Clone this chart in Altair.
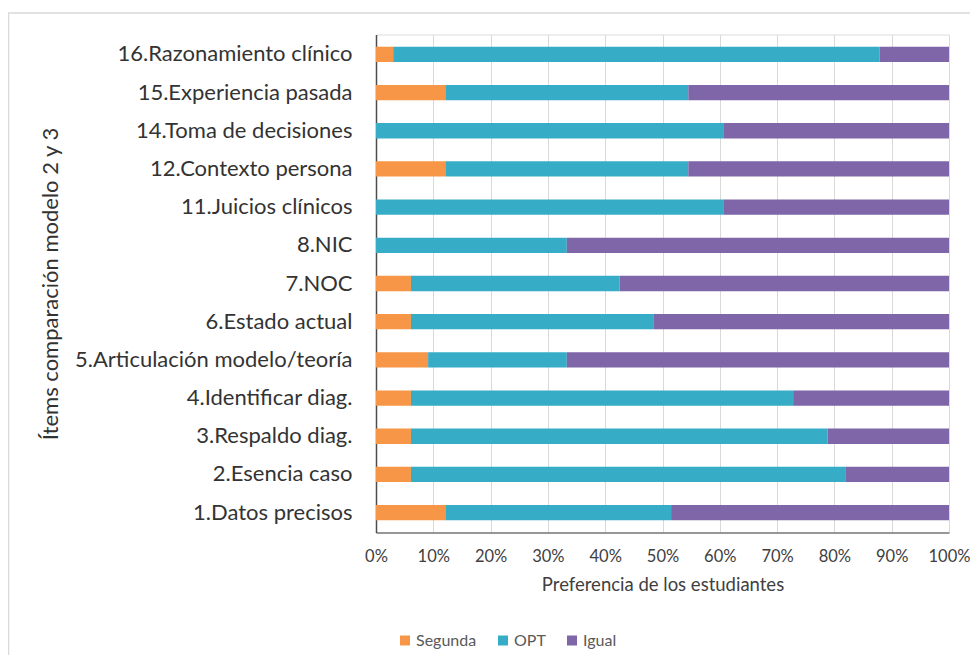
import altair as alt
import pandas as pd

items = ["16.Razonamiento clínico", "15.Experiencia pasada", "14.Toma de decisiones",
         "12.Contexto persona", "11.Juicios clínicos", "8.NIC", "7.NOC", "6.Estado actual",
         "5.Articulación modelo/teoría", "4.Identificar diag.", "3.Respaldo diag.",
         "2.Esencia caso", "1.Datos precisos"]
segunda = [3.0, 12.1, 0.0, 12.1, 0.0, 0.0, 6.1, 6.1, 9.1, 6.1, 6.1, 6.1, 12.1]
opt = [84.9, 42.4, 60.6, 42.4, 60.6, 33.3, 36.4, 42.4, 24.2, 66.7, 72.7, 75.8, 39.4]
igual = [12.1, 45.5, 39.4, 45.5, 39.4, 66.7, 57.5, 51.5, 66.7, 27.2, 21.2, 18.1, 48.5]
series = ["Segunda", "OPT", "Igual"]
colors = ["#F79646", "#36ACC7", "#7E66A8"]
x_ticks = [0, 0.1, 0.2, 0.3, 0.4, 0.5, 0.6, 0.7, 0.8, 0.9, 1.0]

rows = []
for i, it in enumerate(items):
    for k, (name, vals) in enumerate(zip(series, [segunda, opt, igual])):
        rows.append({"item": it, "serie": name, "valor": vals[i], "orden": k})
df = pd.DataFrame(rows)

FONT = "Lato"

bars = alt.Chart(df).mark_bar().encode(
    y=alt.Y("item:N", sort=items,
            scale=alt.Scale(paddingInner=0.6, paddingOuter=0.32),
            axis=alt.Axis(title="Ítems comparación modelo 2 y 3", ticks=False,
                          labelPadding=24, labelFontSize=22, labelColor="#333333",
                          labelFont=FONT, labelLimit=0, labelOverlap=False,
                          titleFont=FONT, titleFontSize=22,
                          titleFontWeight="normal", titleColor="#333333",
                          titleX=-326, titleY=249, titleAngle=270,
                          titleAlign="center", titleBaseline="middle",
                          domainColor="#4d4d4d", domainWidth=1.5, grid=False)),
    x=alt.X("valor:Q", stack="normalize",
            scale=alt.Scale(domain=[0, 1], nice=False),
            axis=alt.Axis(title="Preferencia de los estudiantes", format=".0%",
                          values=x_ticks, ticks=False, labelPadding=16,
                          labelOverlap=False, labelFlush=False,
                          labelFontSize=16.5, labelColor="#404040", labelFont=FONT,
                          titleFont=FONT, titleFontSize=18.5, titleFontWeight="normal",
                          titleColor="#404040", titlePadding=10,
                          domainColor="#404040", domainWidth=1,
                          grid=True, gridColor="#D9D9D9", gridWidth=1)),
    color=alt.Color("serie:N", scale=alt.Scale(domain=series, range=colors),
                    legend=alt.Legend(title=None, orient="none", direction="horizontal",
                                      legendX=21, legendY=598, symbolType="square",
                                      symbolSize=100, symbolStrokeWidth=0,
                                      labelFont=FONT, labelFontSize=16,
                                      labelColor="#595959", labelOffset=3,
                                      columnPadding=18, padding=0)),
    order=alt.Order("orden:Q"),
)

border = alt.Chart(pd.DataFrame({"a": [0]})).mark_rect(
    filled=False, stroke="#D9D9D9", strokeWidth=1.5, clip=False
).encode(
    x=alt.value(-367.5), x2=alt.value(800), y=alt.value(-21.5), y2=alt.value(800)
)

chart = alt.layer(border, bars).properties(
    width=573, height=498,
    autosize=alt.AutoSizeParams(type="none"),
    padding={"left": 368, "top": 26.5, "right": 21, "bottom": 122.5},
).configure_view(strokeWidth=0).configure(background="white")

chart.save("out.html", embed_options={"renderer": "svg", "actions": False})
